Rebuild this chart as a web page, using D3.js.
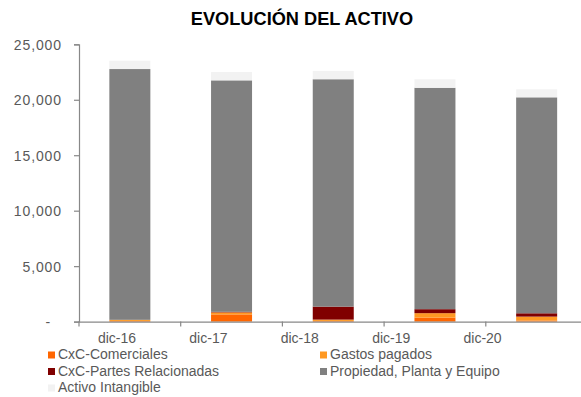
<!DOCTYPE html>
<html>
<head>
<meta charset="utf-8">
<script src="https://cdn.jsdelivr.net/npm/d3@7"></script>
<style>
  body { margin: 0; background: #fff; }
  svg { display: block; font-family: "Liberation Sans", Arial, sans-serif; }
</style>
</head>
<body>
<svg id="chart" width="581" height="397"></svg>
<script>
const categories = ["dic-16", "dic-17", "dic-18", "dic-19", "dic-20"];
const cxcComerciales = [60, 650, 60, 360, 100];
const gastosPagados = [100, 180, 120, 400, 350];
const cxcPartes = [0, 50, 1170, 360, 300];
const propiedad = [22610, 20870, 20500, 19960, 19470];
const intangible = [750, 750, 750, 760, 720];
const seriesNames = ["CxC-Comerciales", "Gastos pagados", "CxC-Partes Relacionadas", "Propiedad, Planta y Equipo", "Activo Intangible"];
const yTicks = [0, 5000, 10000, 15000, 20000, 25000];

const colors = ["#FF6600", "#FF9922", "#800000", "#808080", "#F2F2F2"];
const seriesArrays = [cxcComerciales, gastosPagados, cxcPartes, propiedad, intangible];

const rows = categories.map((c, i) => {
  const o = { cat: c };
  seriesNames.forEach((s, k) => o[s] = seriesArrays[k][i]);
  return o;
});
const stacked = d3.stack().keys(seriesNames)(rows);

const svg = d3.select("#chart");
const x0 = 79, x1 = 587.5, yBottom = 321.6, yTop = 44.3;

const x = d3.scaleBand().domain(categories).range([x0, x1]).paddingInner(0).paddingOuter(0);
const xLabel = d3.scaleBand().domain(categories).range([71.3, 528.3]);
const y = d3.scaleLinear().domain([0, 25000]).range([yBottom, yTop]);
const barW = 41;

// bars
svg.append("g").selectAll("g").data(stacked).join("g")
  .attr("fill", (d, i) => colors[i])
  .selectAll("rect").data(d => d).join("rect")
  .attr("x", d => x(d.data.cat) + x.bandwidth() / 2 - barW / 2)
  .attr("width", barW)
  .attr("y", d => y(d[1]))
  .attr("height", d => Math.max(0, y(d[0]) - y(d[1])));

// y axis
const yAxis = svg.append("g").attr("transform", `translate(${x0},0)`)
  .call(d3.axisLeft(y).tickValues(yTicks).tickSize(5).tickPadding(12)
    .tickFormat(d => d === 0 ? "-" : d3.format(",")(d)));
yAxis.select(".domain").attr("stroke", "#888").attr("stroke-width", 1.2);
yAxis.selectAll(".tick line").attr("stroke", "#888").attr("stroke-width", 1.2);
yAxis.selectAll(".tick text").attr("fill", "#595959").style("font-size", "14px")
  .attr("letter-spacing", "0.9px").attr("dy", "0.35em");
yAxis.selectAll(".tick text").filter(d => d === 0).attr("x", -28);

// x axis
const xAxis = svg.append("g").attr("transform", `translate(0,${yBottom})`)
  .call(d3.axisBottom(x).tickSize(0).tickFormat(""));
xAxis.select(".domain").attr("stroke", "#888").attr("stroke-width", 1.2);
xAxis.selectAll(".tick").remove();
const bounds = categories.map(c => x(c));
xAxis.selectAll("line.sep").data(bounds).join("line").attr("class", "sep")
  .attr("x1", d => d).attr("x2", d => d).attr("y1", 0).attr("y2", 5)
  .attr("stroke", "#888").attr("stroke-width", 1.2);

// x labels
svg.append("g").selectAll("text").data(categories).join("text")
  .attr("x", d => xLabel(d) + xLabel.bandwidth() / 2)
  .attr("y", 343)
  .attr("text-anchor", "middle")
  .attr("fill", "#595959")
  .style("font-size", "14px")
  .text(d => d);

// title
svg.append("text").attr("x", 302).attr("y", 25).attr("text-anchor", "middle")
  .style("font-size", "18.2px").style("font-weight", "bold").attr("fill", "#000")
  .text("EVOLUCIÓN DEL ACTIVO");

// legend
const legendPos = [
  { x: 48, y: 359 }, { x: 320, y: 359 },
  { x: 48, y: 375.5 }, { x: 320, y: 375.5 },
  { x: 48, y: 392 }
];
const lg = svg.append("g").selectAll("g").data(seriesNames).join("g")
  .attr("transform", (d, i) => `translate(${legendPos[i].x},${legendPos[i].y})`);
lg.append("rect").attr("x", 0).attr("y", -7.5).attr("width", 7).attr("height", 7)
  .attr("fill", (d, i) => colors[i]);
lg.append("text").attr("x", 10).attr("y", 0).attr("fill", "#595959")
  .style("font-size", "14px").text(d => d);
</script>
</body>
</html>
